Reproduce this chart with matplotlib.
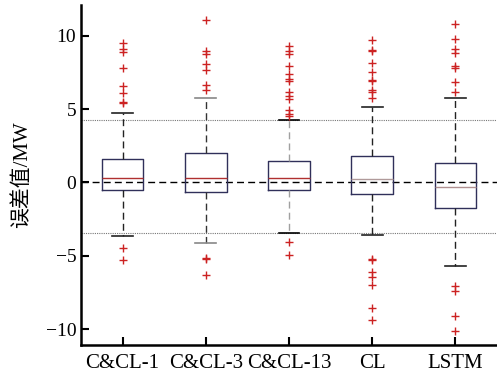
import matplotlib
matplotlib.use("Agg")
import matplotlib.pyplot as plt

plt.rcParams['font.family'] = ['Liberation Serif', 'Noto Sans CJK SC']
plt.rcParams['axes.unicode_minus'] = True

labels = ["C&CL-1", "C&CL-3", "C&CL-13", "CL", "LSTM"]
q1 = [-0.50, -0.64, -0.55, -0.77, -1.78]
med = [0.32, 0.32, 0.32, 0.20, -0.30]
q3 = [1.62, 1.99, 1.44, 1.80, 1.35]
whislo = [-3.68, -4.13, -3.45, -3.56, -5.68]
whishi = [4.75, 5.75, 4.25, 5.16, 5.77]
fliers = [
    [9.5, 9.1, 8.9, 7.8, 6.6, 6.1, 5.5, 5.4, -4.47, -5.3],
    [11.07, 8.99, 8.77, 8.08, 7.67, 6.64, 6.32, -5.16, -5.2, -6.32],
    [9.27, 8.95, 8.77, 7.9, 7.38, 7.05, 6.92, 6.16, 5.89, 5.7, 4.93, 4.66, 4.54,
     -4.04, -4.93],
    [9.68, 9.04, 8.97, 8.15, 7.55, 7.0, 6.92, 6.32, 6.14, 5.77,
     -5.2, -5.27, -6.14, -6.46, -7.0, -8.54, -9.41],
    [10.82, 9.75, 9.11, 8.81, 7.9, 7.79, 6.83, 6.16,
     -7.08, -7.44, -9.11, -10.1],
]
med_colors = ["#b03030", "#b03030", "#b03030", "#b09a9a", "#b09090"]
whisk_colors = ["#222222", "#333333", "#a0a0a0", "#222222", "#222222"]
upper_lvl = 4.25
lower_lvl = -3.45

stats = []
for i in range(len(labels)):
    stats.append(dict(q1=q1[i], med=med[i], q3=q3[i], whislo=whislo[i],
                      whishi=whishi[i], fliers=fliers[i], label=labels[i]))

fig = plt.figure(figsize=(4.97, 3.76), dpi=100)
ax = fig.add_axes([0.163, 0.082, 0.837, 0.905])

ax.axhline(0, color="black", linestyle=(0, (5, 3)), linewidth=1.0, zorder=1)
ax.axhline(upper_lvl, color="#777777", linestyle=(0, (1, 1)), linewidth=0.8, zorder=1)
ax.axhline(lower_lvl, color="#777777", linestyle=(0, (1, 1)), linewidth=0.8, zorder=1)

bp = ax.bxp(stats, positions=range(1, 6), widths=0.5, patch_artist=False,
            boxprops=dict(color="#30305a", linewidth=1.0),
            whiskerprops=dict(linestyle=(0, (5, 3)), linewidth=1.0),
            capprops=dict(linewidth=1.2),
            medianprops=dict(linewidth=1.0),
            flierprops=dict(marker="+", markeredgecolor="#cc2222",
                            markersize=6, markeredgewidth=1.0))
for i in range(len(labels)):
    bp['medians'][i].set_color(med_colors[i])
    for w in bp['whiskers'][2 * i:2 * i + 2]:
        w.set_color(whisk_colors[i])
    for c in bp['caps'][2 * i:2 * i + 2]:
        c.set_color(whisk_colors[i] if i != 1 else "#888888")
bp['caps'][4].set_color("black")
bp['caps'][5].set_color("black")

ax.set_xlim(0.5, 5.5)
ax.set_ylim(-11.1, 12.1)
ax.set_yticks([-10, -5, 0, 5, 10])
ax.set_xticks(range(1, 6))
ax.set_xticklabels(labels)
ax.tick_params(direction="in", length=6, width=1.5, labelsize=14)
ax.tick_params(axis="x", pad=6, labelsize=15)
for s in ["top", "right"]:
    ax.spines[s].set_visible(False)
for s in ["left", "bottom"]:
    ax.spines[s].set_linewidth(1.8)

ax.set_ylabel("误差值/MW", fontsize=15, labelpad=10)

fig.savefig("out.png", dpi=100)
